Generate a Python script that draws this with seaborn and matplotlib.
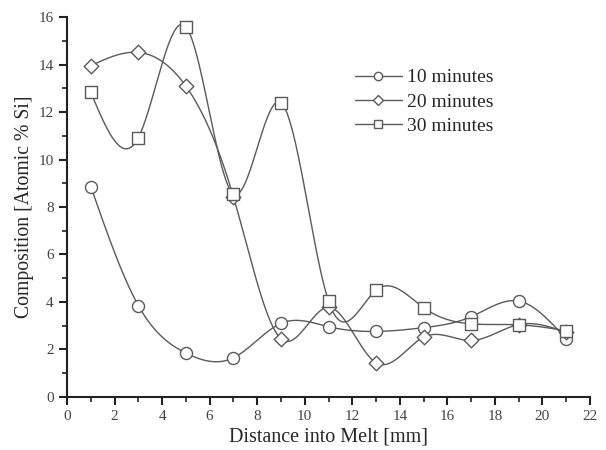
import numpy as np
import pandas as pd
import matplotlib
matplotlib.use("Agg")
import matplotlib.pyplot as plt
from matplotlib.lines import Line2D
from matplotlib.ticker import MultipleLocator
import seaborn as sns

sns.set_theme(style="ticks")
plt.rcParams["font.family"] = ["Liberation Serif", "DejaVu Serif"]

distance = [1, 3, 5, 7, 9, 11, 13, 15, 17, 19, 21]
min10 = [8.86, 3.85, 1.85, 1.65, 3.1, 2.96, 2.76, 2.92, 3.38, 4.04, 2.44]
min20 = [13.95, 14.51, 13.09, 8.43, 2.45, 3.78, 1.44, 2.52, 2.38, 3.05, 2.72]
min30 = [12.83, 10.92, 15.59, 8.55, 12.39, 4.04, 4.5, 3.76, 3.08, 3.04, 2.79]
labels = ["10 minutes", "20 minutes", "30 minutes"]
markers = ["o", "D", "s"]


def natural_spline(x, y, n=400):
    # natural cubic spline through the points, for the smooth connecting line
    x = np.asarray(x, float)
    y = np.asarray(y, float)
    k = len(x)
    h = np.diff(x)
    A = np.zeros((k, k))
    b = np.zeros(k)
    A[0, 0] = A[-1, -1] = 1
    for i in range(1, k - 1):
        A[i, i - 1] = h[i - 1]
        A[i, i] = 2 * (h[i - 1] + h[i])
        A[i, i + 1] = h[i]
        b[i] = 6 * ((y[i + 1] - y[i]) / h[i] - (y[i] - y[i - 1]) / h[i - 1])
    m = np.linalg.solve(A, b)
    xs = np.linspace(x[0], x[-1], n)
    idx = np.clip(np.searchsorted(x, xs) - 1, 0, k - 2)
    x0, x1 = x[idx], x[idx + 1]
    hh = x1 - x0
    t0, t1 = x1 - xs, xs - x0
    ys = (m[idx] * t0 ** 3 + m[idx + 1] * t1 ** 3) / (6 * hh) \
        + (y[idx] / hh - m[idx] * hh / 6) * t0 \
        + (y[idx + 1] / hh - m[idx + 1] * hh / 6) * t1
    return xs, ys


fig = plt.figure(figsize=(6.06, 4.5), dpi=100)
ax = fig.add_axes([0.1106, 0.1178, 0.863, 0.8444])

col = "#5a5a5a"
handles = []
for lab, vals, mk in zip(labels, [min10, min20, min30], markers):
    xs, ys = natural_spline(distance, vals)
    curve = pd.DataFrame({"x": xs, "y": ys})
    sns.lineplot(data=curve, x="x", y="y", ax=ax, color=col, lw=1.0,
                 sort=False, estimator=None)
    pts = pd.DataFrame({"x": distance, "y": vals})
    ms = {"o": 75, "D": 55, "s": 70}[mk]
    sns.scatterplot(data=pts, x="x", y="y", ax=ax, marker=mk, s=ms,
                    facecolor="white", edgecolor=col, linewidth=1.0, zorder=3)
    handles.append(Line2D([], [], color=col, lw=1.0, marker=mk,
                          markersize=6 if mk != "D" else 5.5,
                          markerfacecolor="white", markeredgecolor=col))

ax.set_xlim(0, 22)
ax.set_ylim(0, 16)
ax.xaxis.set_major_locator(MultipleLocator(2))
ax.xaxis.set_minor_locator(MultipleLocator(1))
ax.yaxis.set_major_locator(MultipleLocator(2))
ax.yaxis.set_minor_locator(MultipleLocator(1))
ax.tick_params(which="major", direction="out", length=6, width=1.5,
               labelsize=11, colors="#222222")
ax.tick_params(which="minor", direction="out", length=3.5, width=1.2,
               colors="#222222")
ax.tick_params(labelcolor="#444444")
sns.despine(ax=ax)
for s in ["left", "bottom"]:
    ax.spines[s].set_linewidth(1.5)
    ax.spines[s].set_color("#222222")

ax.set_xlabel("Distance into Melt [mm]", fontsize=14.5, labelpad=3)
ax.set_ylabel("Composition [Atomic % Si]", fontsize=14.2, labelpad=3)

ax.legend(handles, labels, loc="upper left", bbox_to_anchor=(0.517, 0.91),
          frameon=False, fontsize=14, handlelength=2.4, handletextpad=0.3,
          labelspacing=0.35)

fig.savefig("out.png", dpi=100)
